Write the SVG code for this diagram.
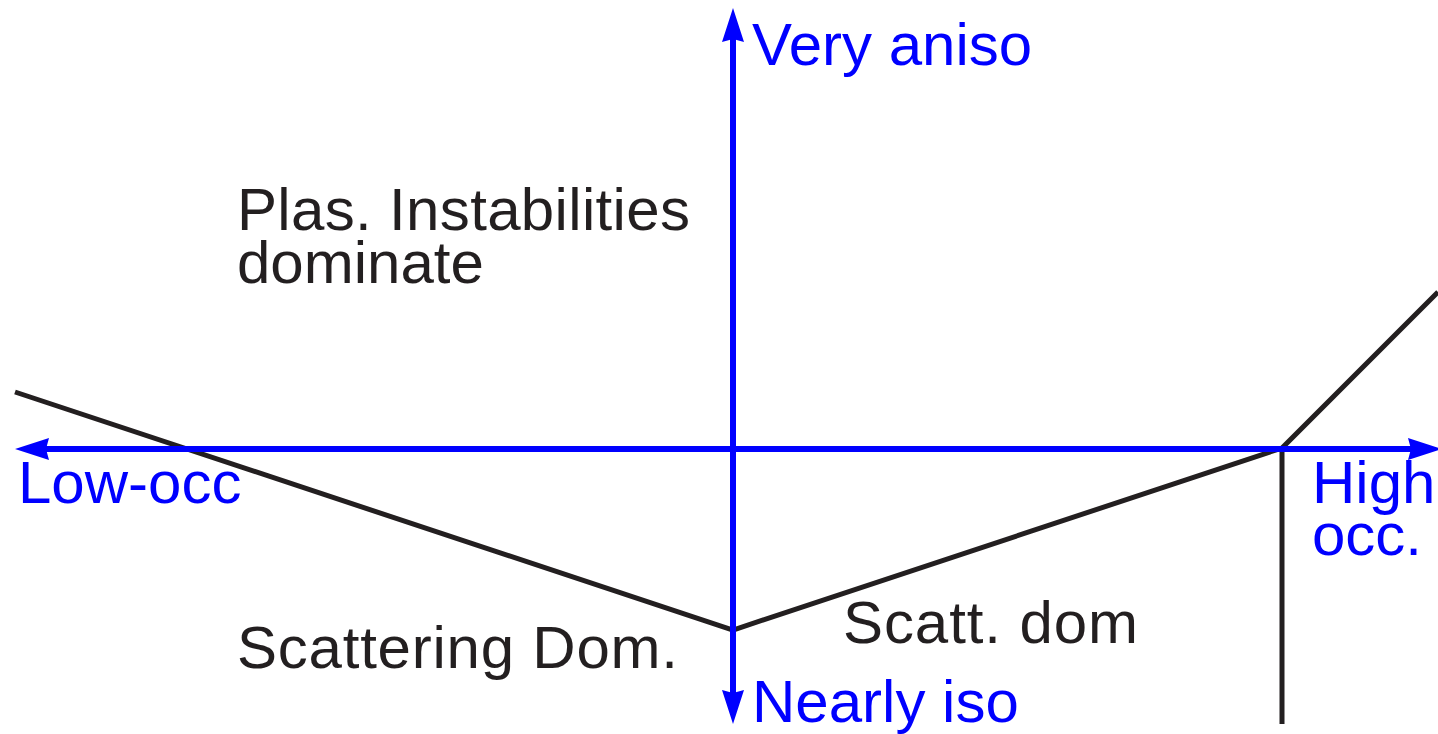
<svg xmlns="http://www.w3.org/2000/svg" width="1438" height="734" viewBox="0 0 1438 734">
<style>
.ax{stroke:#0000ff;stroke-width:6;fill:none}
.bl{stroke:#231f20;stroke-width:5;fill:none;stroke-linejoin:miter}
.tb{fill:#0000ff;font-family:"Liberation Sans",Arial,sans-serif;font-size:60px}
.tk{fill:#231f20;font-family:"Liberation Sans",Arial,sans-serif;font-size:60px}
.ah{fill:#0000ff}
</style>
<rect width="1438" height="734" fill="#ffffff"/>
<g id="boundaries">
<polyline class="bl" points="15,392 733,630 1282,448 1438,292"/>
<line class="bl" x1="1282" y1="448" x2="1282" y2="724"/>
</g>
<g id="axes">
<line class="ax" x1="733" y1="30" x2="733" y2="702"/>
<line class="ax" x1="38" y1="449" x2="1420" y2="449"/>
<polygon class="ah" points="733,8 722,42 733,39 744,42"/>
<polygon class="ah" points="733,724 722,690 733,693 744,690"/>
<polygon class="ah" points="15,449 49,438 46,449 49,460"/>
<polygon class="ah" points="1442,449 1408,438 1411,449 1408,460"/>
</g>
<g id="labels">
<text class="tb" x="752" y="65">Very aniso</text>
<text class="tb" x="752" y="722">Nearly iso</text>
<text class="tb" x="18" y="503">Low-occ</text>
<text class="tb" x="1312" y="503">High</text>
<text class="tb" x="1312" y="555">occ.</text>
<text class="tk" x="237" y="230" textLength="453">Plas. Instabilities</text>
<text class="tk" x="237" y="283">dominate</text>
<text class="tk" x="843" y="643" textLength="295">Scatt. dom</text>
<text class="tk" x="237" y="668" textLength="441">Scattering Dom.</text>
</g>
</svg>
